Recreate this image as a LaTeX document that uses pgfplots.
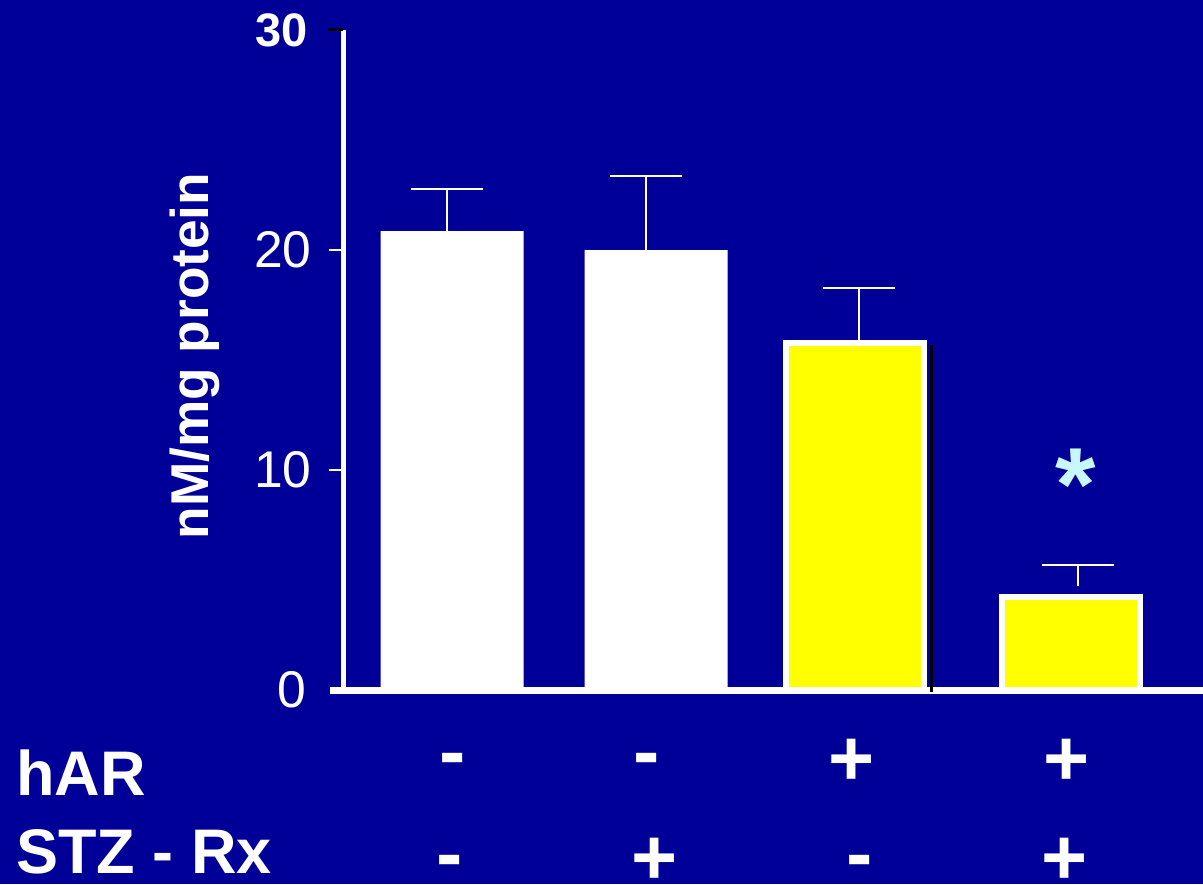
\documentclass[border=0pt]{standalone}
\usepackage{fontspec}
\setmainfont{Liberation Sans}
\usepackage{pgfplots}
\pgfplotsset{compat=1.18}
\definecolor{bgc}{RGB}{0,0,153}
\definecolor{ylw}{RGB}{255,255,0}
\definecolor{ast}{RGB}{200,248,255}
\begin{document}
\begin{tikzpicture}
\useasboundingbox (0,0) rectangle (601.5pt,442pt);
\fill[bgc] (0,0) rectangle (601.5pt,442pt);
\begin{axis}[at={(171.5pt,97pt)}, anchor=south west, scale only axis,
  width=430pt, height=330pt, xmin=343, xmax=1203, ymin=0, ymax=30,
  enlargelimits=false, clip=false,
  axis x line=bottom, axis y line=left, axis line style={-},
  x axis line style={white, line width=3.5pt},
  y axis line style={white, line width=2.5pt},
  xtick=\empty, ytick={0,10,20,30},
  yticklabels={0\kern2.5pt,10,20,{\fontsize{23.5}{23.5}\selectfont\bfseries 30\kern2pt}},
  major tick length=0pt,
  yticklabel style={font=\fontsize{25.8}{25.8}\selectfont, text=white, inner sep=0pt, anchor=east, xshift=-15.5pt},
  /pgf/number format/assume math mode=true]
\addplot[ybar, bar width=143, bar shift=0pt, fill=white, draw=none] coordinates {(452,20.86) (656,20.0)};
\addplot[ybar, bar width=138, bar shift=0pt, fill=ylw, draw=white, line width=3pt] coordinates {(855,15.77) (1071,4.23)};
\addplot[draw=none, mark=none, forget plot,
  error bars/.cd, y dir=plus, y explicit, error mark=|,
  error bar style={white, line width=1pt},
  error mark options={white, mark size=18pt, line width=1pt}]
  coordinates {(447,20.86) +- (0,1.91) (646,20.0) +- (0,3.36) (859,15.77) +- (0,2.5) (1078,4.73) +- (0,0.95)};
\draw[white, line width=0.6pt] (axis cs:329,10) -- (axis cs:343,10);
\draw[white, line width=0.6pt] (axis cs:329,20) -- (axis cs:343,20);
\draw[black, line width=1.5pt] (axis cs:328,30) -- (axis cs:343,30);
\draw[white, line width=3.5pt] (axis cs:330,0) -- (axis cs:343,0);
\draw[black, line width=1.5pt] (axis cs:931,15.7) -- (axis cs:931,-0.1);
\node[rotate=90, text=white, font=\fontsize{26.6}{26.6}\selectfont\bfseries] at (axis cs:194.5,15.18) {nM/mg protein};
\node[anchor=base west, inner sep=0pt, text=white, font=\fontsize{31.5}{31.5}\selectfont\bfseries] at (axis cs:16,-4.78) {hAR};
\node[anchor=base west, inner sep=0pt, text=white, font=\fontsize{31.5}{31.5}\selectfont\bfseries] at (axis cs:16,-8.318) {STZ - Rx};
\begin{scope}[every node/.style={anchor=base, inner sep=0pt, text=white, font=\fontsize{39.5}{39.5}\selectfont\bfseries}]
\node at (axis cs:453,-4.045) {-};
\node at (axis cs:647,-4.045) {-};
\node at (axis cs:851.5,-4.318) {+};
\node at (axis cs:1067,-4.318) {+};
\node at (axis cs:450,-8.68) {-};
\node at (axis cs:655,-8.82) {+};
\node at (axis cs:860,-8.68) {-};
\node at (axis cs:1065,-8.82) {+};
\end{scope}
\node[anchor=base, inner sep=0pt, text=ast, font=\fontsize{52}{52}\selectfont\bfseries] at (axis cs:1076,7.72) {*};
\end{axis}
\end{tikzpicture}
\end{document}
